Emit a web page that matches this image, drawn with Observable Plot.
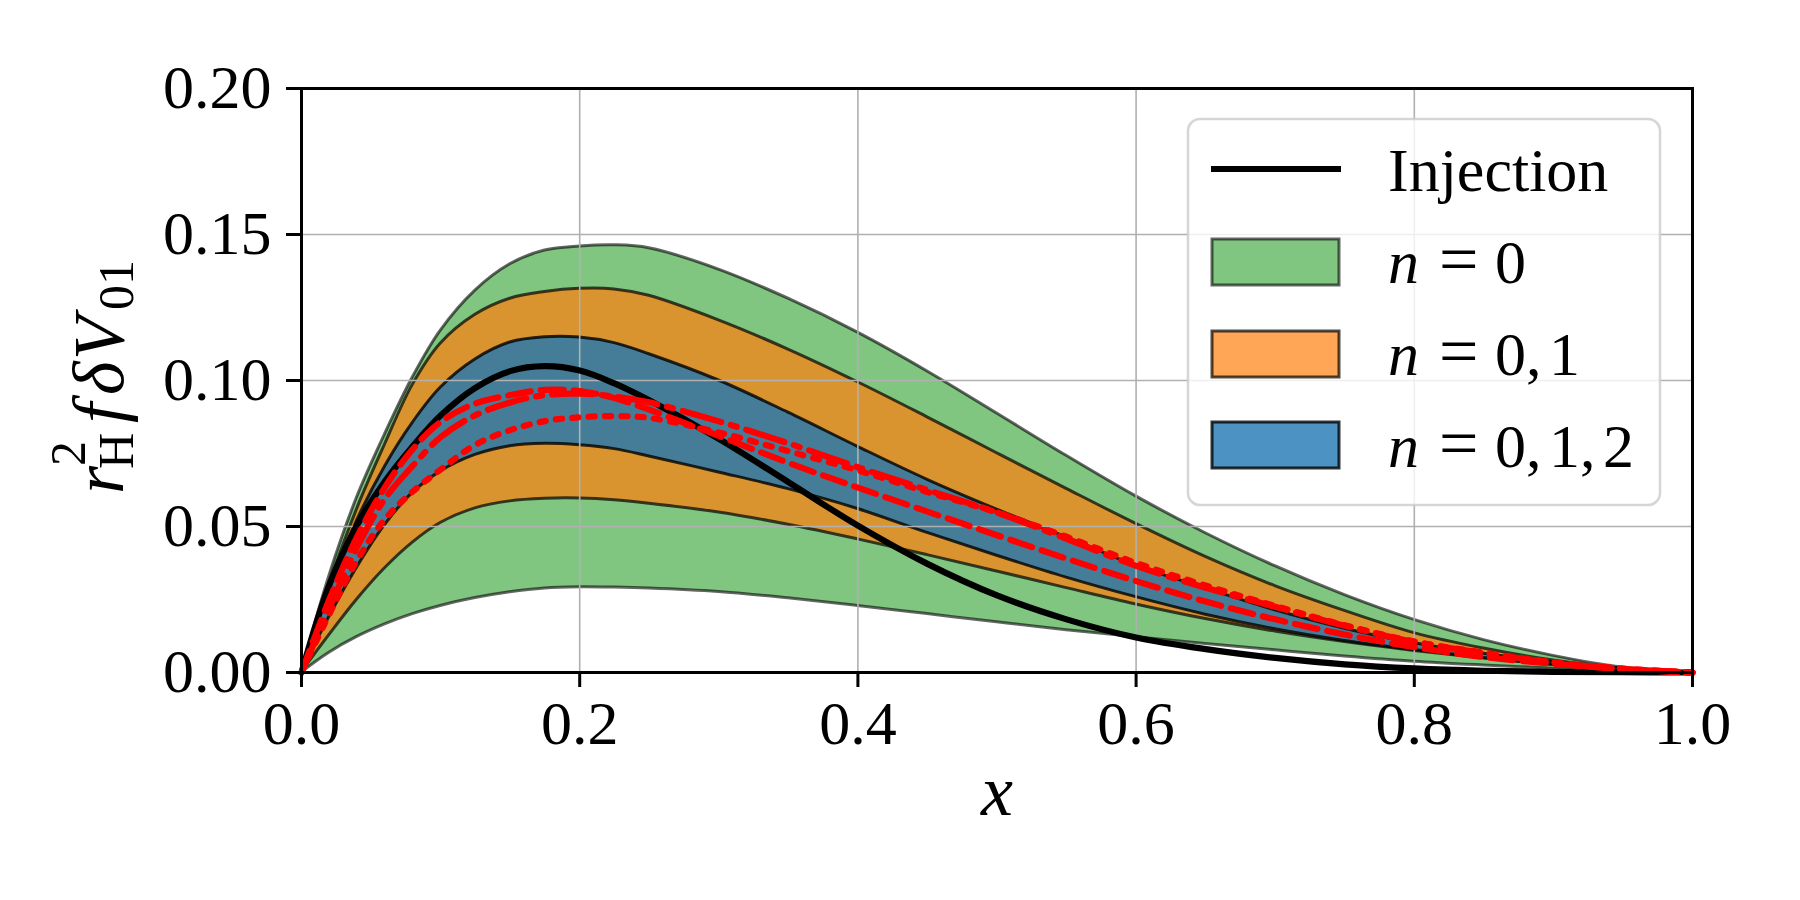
<!DOCTYPE html>
<html><head><meta charset="utf-8">
<script src="https://cdn.jsdelivr.net/npm/d3@7"></script>
<script src="https://cdn.jsdelivr.net/npm/@observablehq/plot@0.6"></script>
<style>
body{margin:0;background:#fff;}
</style>
</head><body><div id="chart"></div>
<script>
// ---- data ----
const xs          = [0, 0.02, 0.04, 0.06, 0.08, 0.10, 0.125, 0.15, 0.175, 0.2, 0.225, 0.25, 0.3, 0.35, 0.4, 0.45, 0.5, 0.55, 0.6, 0.65, 0.7, 0.75, 0.8, 0.85, 0.9, 0.95, 1.0];
const greenUpper  = [0, 0.033, 0.060, 0.0815, 0.1010, 0.1170, 0.1308, 0.1398, 0.1445, 0.1459, 0.1463, 0.1453, 0.1380, 0.1280, 0.1164, 0.1031, 0.0887, 0.0742, 0.0603, 0.0477, 0.0364, 0.0265, 0.0180, 0.0111, 0.0057, 0.0017, 0];
const greenLower  = [0, 0.0068, 0.0122, 0.0165, 0.0200, 0.0228, 0.0255, 0.0275, 0.0288, 0.0292, 0.0291, 0.0288, 0.0276, 0.0254, 0.0228, 0.0200, 0.0172, 0.0145, 0.0121, 0.0098, 0.0076, 0.0055, 0.0037, 0.0024, 0.0013, 0.0004, 0];
const orangeUpper = [0, 0.030, 0.056, 0.078, 0.0985, 0.1126, 0.1225, 0.1280, 0.1303, 0.1314, 0.1312, 0.1290, 0.1206, 0.1106, 0.0994, 0.0874, 0.0751, 0.0629, 0.0509, 0.0396, 0.0296, 0.0211, 0.0135, 0.0082, 0.0041, 0.0013, 0];
const orangeLower = [0, 0.0128, 0.0250, 0.0357, 0.0445, 0.0512, 0.0562, 0.0586, 0.0595, 0.0596, 0.0590, 0.0578, 0.0548, 0.0506, 0.0456, 0.0402, 0.0346, 0.0289, 0.0233, 0.0183, 0.0140, 0.0104, 0.0074, 0.0048, 0.0026, 0.0009, 0];
const blueUpper   = [0, 0.028, 0.052, 0.0705, 0.0855, 0.0975, 0.1072, 0.1130, 0.1148, 0.1147, 0.1128, 0.1090, 0.1000, 0.0890, 0.0773, 0.0660, 0.0558, 0.0463, 0.0365, 0.0288, 0.0213, 0.0150, 0.0100, 0.0064, 0.0035, 0.0013, 0];
const blueLower   = [0, 0.019, 0.036, 0.0505, 0.0615, 0.0688, 0.0745, 0.0775, 0.0783, 0.0778, 0.0765, 0.0740, 0.0685, 0.0628, 0.0560, 0.0478, 0.0400, 0.0325, 0.0258, 0.0198, 0.0148, 0.0108, 0.0077, 0.0050, 0.0027, 0.0009, 0];
const injection   = [0, 0.030, 0.0505, 0.0655, 0.0775, 0.0880, 0.0975, 0.1032, 0.1049, 0.1034, 0.0990, 0.0932, 0.0800, 0.0652, 0.0503, 0.0372, 0.0264, 0.0182, 0.0120, 0.0080, 0.0050, 0.0028, 0.0014, 0.0006, 0.0002, 0.0001, 0];
const redDashed   = [0, 0.025, 0.0465, 0.0635, 0.0765, 0.0858, 0.0921, 0.0950, 0.0968, 0.0964, 0.0940, 0.0900, 0.0810, 0.0718, 0.0633, 0.0551, 0.0470, 0.0390, 0.0313, 0.0243, 0.0182, 0.0130, 0.0087, 0.0053, 0.0030, 0.0012, 0];
const redDashDot  = [0, 0.022, 0.043, 0.0595, 0.0708, 0.0806, 0.0881, 0.0925, 0.0950, 0.0955, 0.0945, 0.0925, 0.0860, 0.0785, 0.0703, 0.0625, 0.0548, 0.0458, 0.0365, 0.0290, 0.0225, 0.0160, 0.0105, 0.0067, 0.0034, 0.0012, 0];
const redDotted   = [0, 0.020, 0.0385, 0.0525, 0.0620, 0.0695, 0.0780, 0.0830, 0.0861, 0.0874, 0.0878, 0.0872, 0.0822, 0.0758, 0.0692, 0.0618, 0.0548, 0.0465, 0.0375, 0.0298, 0.0228, 0.0162, 0.0106, 0.0068, 0.0035, 0.0013, 0];
const xTicks = [0, 0.2, 0.4, 0.6, 0.8, 1.0];
const yTicks = [0, 0.05, 0.10, 0.15, 0.20];
const legendLabels = ["Injection", "n = 0", "n = 0, 1", "n = 0, 1, 2"];

const rows = xs.map((x, i) => ({
  x, gU: greenUpper[i], gL: greenLower[i], oU: orangeUpper[i], oL: orangeLower[i],
  bU: blueUpper[i], bL: blueLower[i], inj: injection[i],
  dash: redDashed[i], dashdot: redDashDot[i], dot: redDotted[i]
}));

const curve = "catmull-rom";
const FONT = "'Liberation Serif', 'Times New Roman', serif";
const LW = 6.2;

const plot = Plot.plot({
  width: 1800, height: 900,
  marginLeft: 301, marginRight: 108, marginTop: 88, marginBottom: 228,
  style: {fontFamily: FONT, fontSize: "62px", background: "white", color: "black"},
  x: {domain: [0, 1], label: null},
  y: {domain: [0, 0.2], label: null},
  marks: [
    Plot.areaY(rows, {x: "x", y1: "gL", y2: "gU", fill: "#2ca02c", fillOpacity: 0.6, stroke: "black", strokeOpacity: 0.6, strokeWidth: 3, curve}),
    Plot.areaY(rows, {x: "x", y1: "oL", y2: "oU", fill: "#ff7f0e", fillOpacity: 0.7, stroke: "black", strokeOpacity: 0.7, strokeWidth: 3, curve}),
    Plot.areaY(rows, {x: "x", y1: "bL", y2: "bU", fill: "#1f77b4", fillOpacity: 0.8, stroke: "black", strokeOpacity: 0.8, strokeWidth: 3, curve}),
    Plot.gridX(xTicks, {stroke: "#b0b0b0", strokeOpacity: 1, strokeWidth: 1.6}),
    Plot.gridY(yTicks, {stroke: "#b0b0b0", strokeOpacity: 1, strokeWidth: 1.6}),
    Plot.line(rows, {x: "x", y: "inj", stroke: "black", strokeWidth: LW, curve}),
    Plot.line(rows, {x: "x", y: "dash", stroke: "red", strokeWidth: LW, strokeDasharray: "23,10", curve}),
    Plot.line(rows, {x: "x", y: "dashdot", stroke: "red", strokeWidth: LW, strokeDasharray: "40,10,6.2,10", curve}),
    Plot.line(rows, {x: "x", y: "dot", stroke: "red", strokeWidth: LW, strokeDasharray: "6.2,10.2", curve}),
    Plot.frame({stroke: "black", strokeWidth: 3}),
    Plot.axisX(xTicks, {anchor: "bottom", tickSize: 15, tickPadding: 12, strokeWidth: 3, tickFormat: d3.format(".1f"), fontSize: 62, label: null}),
    Plot.axisY(yTicks, {anchor: "left", tickSize: 15, tickPadding: 15, strokeWidth: 3, tickFormat: d3.format(".2f"), fontSize: 62, label: null})
  ]
});
document.getElementById("chart").appendChild(plot);

const svg = d3.select(plot);

// x label
svg.append("text").attr("x", 997).attr("y", 815).attr("text-anchor", "middle")
  .attr("font-family", FONT).attr("font-size", 72).attr("font-style", "italic").text("x");

// y label (rotated)
const yl = svg.append("g").attr("transform", "translate(123,497) rotate(-90)")
  .attr("font-family", FONT).attr("fill", "black").attr("text-anchor", "start");
const addT = (txt, x, y, size, italic) => yl.append("text").attr("x", x).attr("y", y)
  .attr("text-anchor", "start").attr("font-size", size).attr("font-style", italic ? "italic" : "normal").text(txt);
addT("r", 3, 0, 72, true);
addT("2", 31, -38, 50, false);
addT("H", 28, 10, 50, false);
addT("f", 74, 0, 72, true);
addT("δ", 102, 0, 72, true);
addT("V", 137, 0, 72, true);
addT("01", 187, 10, 50, false);

// legend
const lg = svg.append("g").attr("font-family", FONT).attr("font-size", 62).attr("text-anchor", "start");
lg.append("rect").attr("x", 1188).attr("y", 119).attr("width", 472).attr("height", 386).attr("rx", 12)
  .attr("fill", "white").attr("fill-opacity", 0.8).attr("stroke", "#cccccc").attr("stroke-opacity", 0.8).attr("stroke-width", 2.6);
lg.append("line").attr("x1", 1211).attr("x2", 1341).attr("y1", 169).attr("y2", 169)
  .attr("stroke", "black").attr("stroke-width", LW);
lg.append("text").attr("x", 1388).attr("y", 191).attr("text-anchor", "start").text(legendLabels[0]);
const patches = [
  {fill: "#2ca02c", op: 0.6, y: 239, base: 283, nums: ["0"]},
  {fill: "#ff7f0e", op: 0.7, y: 331, base: 375, nums: ["0", "1"]},
  {fill: "#1f77b4", op: 0.8, y: 422, base: 467, nums: ["0", "1", "2"]}
];
patches.forEach(p => {
  lg.append("rect").attr("x", 1212).attr("y", p.y).attr("width", 127).attr("height", 46)
    .attr("fill", p.fill).attr("fill-opacity", p.op).attr("stroke", "black").attr("stroke-opacity", p.op).attr("stroke-width", 3);
  const t = lg.append("text").attr("y", p.base).attr("text-anchor", "start");
  t.append("tspan").attr("x", 1388).attr("font-style", "italic").text("n");
  t.append("tspan").attr("x", 1439).attr("font-size", 70).text("=");
  const xsN = [1495, 1549, 1603];
  p.nums.forEach((n, i) => {
    t.append("tspan").attr("x", xsN[i]).text(n);
    if (i < p.nums.length - 1) t.append("tspan").attr("x", xsN[i] + 31).text(",");
  });
});
</script>
</body></html>
